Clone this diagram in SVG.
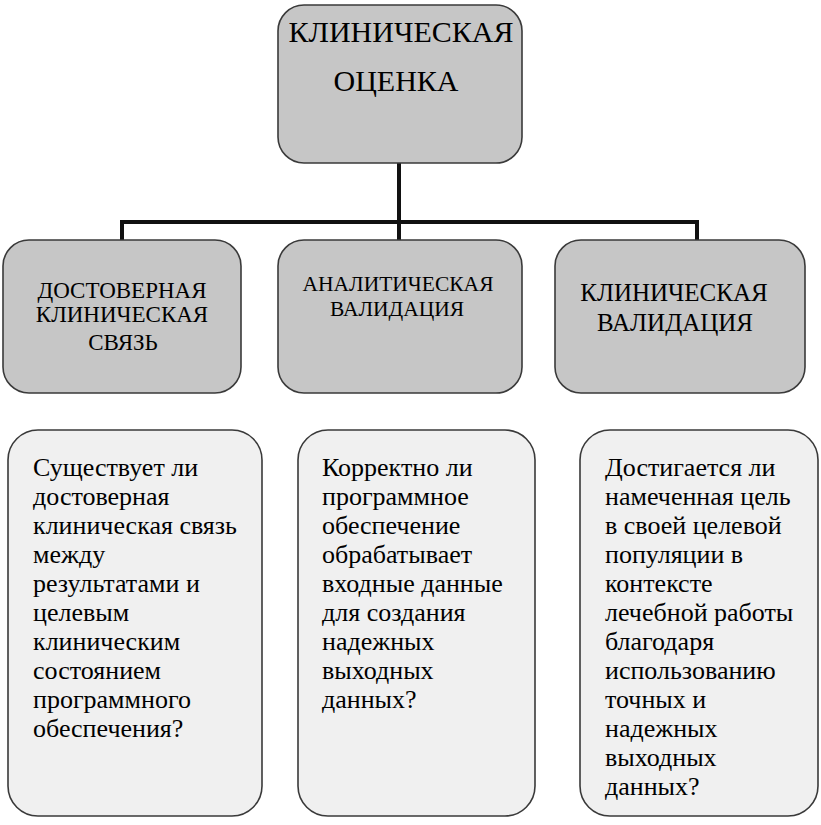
<svg xmlns="http://www.w3.org/2000/svg" width="821" height="825" viewBox="0 0 821 825">
<style>
.hd{fill:#c6c6c6;stroke:#3a3a3a;stroke-width:1.6}
.q{fill:#f0f0f0;stroke:#3a3a3a;stroke-width:1.6}
.t{font-family:"Liberation Serif","DejaVu Serif",serif;fill:#000}
.h{text-anchor:middle}
.c{fill:none;stroke:#111;stroke-width:4}
</style>
<rect width="821" height="825" fill="#ffffff"/>
<g id="connectors">
<path class="c" d="M399,163 V222 M122,240 V222 H697 V240 M399,222 V240"/>
</g>
<g id="n-top">
<rect class="hd" x="278" y="5" width="244" height="158" rx="26"/>
<text class="t h" x="401" y="42" font-size="30">КЛИНИЧЕСКАЯ</text>
<text class="t h" x="396" y="91" font-size="30">ОЦЕНКА</text>
</g>
<g id="n-link">
<rect class="hd" x="3" y="240" width="238" height="153" rx="26"/>
<text class="t h" x="122" y="298" font-size="23">ДОСТОВЕРНАЯ</text>
<text class="t h" x="122" y="322" font-size="23">КЛИНИЧЕСКАЯ</text>
<text class="t h" x="123" y="350" font-size="23">СВЯЗЬ</text>
</g>
<g id="n-analytic">
<rect class="hd" x="278" y="240" width="244" height="153" rx="26"/>
<text class="t h" x="398" y="291" font-size="21.5">АНАЛИТИЧЕСКАЯ</text>
<text class="t h" x="397" y="316" font-size="21.5">ВАЛИДАЦИЯ</text>
</g>
<g id="n-clinical">
<rect class="hd" x="555" y="240" width="250" height="153" rx="26"/>
<text class="t h" x="674" y="301" font-size="25">КЛИНИЧЕСКАЯ</text>
<text class="t h" x="675" y="331" font-size="25">ВАЛИДАЦИЯ</text>
</g>
<g id="q-link">
<rect class="q" x="8" y="430" width="254" height="386" rx="30"/>
<text class="t" font-size="26">
<tspan x="33" y="476">Существует ли</tspan>
<tspan x="33" y="505">достоверная</tspan>
<tspan x="33" y="534">клиническая связь</tspan>
<tspan x="33" y="563">между</tspan>
<tspan x="33" y="592">результатами и</tspan>
<tspan x="33" y="621">целевым</tspan>
<tspan x="33" y="650">клиническим</tspan>
<tspan x="33" y="679">состоянием</tspan>
<tspan x="33" y="708">программного</tspan>
<tspan x="33" y="737">обеспечения?</tspan>
</text>
</g>
<g id="q-analytic">
<rect class="q" x="298" y="430" width="237" height="386" rx="30"/>
<text class="t" font-size="26">
<tspan x="322" y="476">Корректно ли</tspan>
<tspan x="322" y="505">программное</tspan>
<tspan x="322" y="534">обеспечение</tspan>
<tspan x="322" y="563">обрабатывает</tspan>
<tspan x="322" y="592">входные данные</tspan>
<tspan x="322" y="621">для создания</tspan>
<tspan x="322" y="650">надежных</tspan>
<tspan x="322" y="679">выходных</tspan>
<tspan x="322" y="708">данных?</tspan>
</text>
</g>
<g id="q-clinical">
<rect class="q" x="580" y="430" width="238" height="386" rx="30"/>
<text class="t" font-size="26">
<tspan x="605" y="476">Достигается ли</tspan>
<tspan x="605" y="505">намеченная цель</tspan>
<tspan x="605" y="534">в своей целевой</tspan>
<tspan x="605" y="563">популяции в</tspan>
<tspan x="605" y="592">контексте</tspan>
<tspan x="605" y="621">лечебной работы</tspan>
<tspan x="605" y="650">благодаря</tspan>
<tspan x="605" y="679">использованию</tspan>
<tspan x="605" y="708">точных и</tspan>
<tspan x="605" y="737">надежных</tspan>
<tspan x="605" y="766">выходных</tspan>
<tspan x="605" y="795">данных?</tspan>
</text>
</g>
</svg>
